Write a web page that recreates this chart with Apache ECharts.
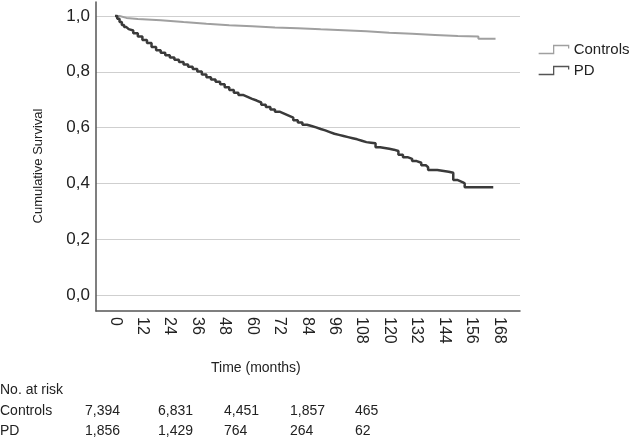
<!DOCTYPE html>
<html>
<head>
<meta charset="utf-8">
<script src="https://cdn.jsdelivr.net/npm/echarts@6/dist/echarts.min.js"></script>
<style>
html,body{margin:0;padding:0;background:#fff;}
#chart{width:632px;height:439px;}
</style>
</head>
<body>
<div id="chart"></div>
<script>
// ---- data ----
var controlsTime = [0, 2, 5, 10, 20, 30, 40, 50, 60, 70, 80, 90, 100, 110, 120, 130, 140, 150, 159, 166.5];
var controlsSurv = [1.0, 0.993, 0.989, 0.985, 0.978, 0.972, 0.967, 0.963, 0.959, 0.956, 0.952, 0.949, 0.945, 0.940, 0.936, 0.932, 0.928, 0.926, 0.918, 0.918];

var pdTime = [0, 1, 2, 3, 4, 5, 6, 8, 10, 12, 14, 16, 18, 20, 22, 24, 26, 28, 30, 32, 34, 36, 38, 40, 42, 44, 46, 48, 50,
  52, 54, 56, 58, 60, 62, 64, 66, 68, 70, 72, 74, 76, 78, 80, 82, 84, 86, 88, 90, 92, 94, 96, 98, 100, 102, 104, 106,
  108, 110, 112, 114, 116, 118, 120, 122, 124, 126, 128, 130, 132, 134, 136, 137, 141, 146, 148, 150, 152, 153, 165.5];
var pdSurv = [1.000, 0.990, 0.978, 0.968, 0.960, 0.953, 0.948, 0.938, 0.926, 0.914, 0.903, 0.889, 0.877, 0.868, 0.859,
  0.851, 0.843, 0.835, 0.826, 0.818, 0.810, 0.801, 0.790, 0.780, 0.772, 0.764, 0.755, 0.745, 0.735, 0.725, 0.717,
  0.710, 0.703, 0.697, 0.690, 0.682, 0.674, 0.665, 0.657, 0.650, 0.643, 0.636, 0.626, 0.618, 0.610, 0.606, 0.601,
  0.595, 0.590, 0.584, 0.578, 0.574, 0.570, 0.566, 0.562, 0.558, 0.553, 0.548, 0.546, 0.544, 0.530, 0.527, 0.524,
  0.521, 0.516, 0.503, 0.494, 0.488, 0.480, 0.474, 0.465, 0.458, 0.448, 0.442, 0.438, 0.412, 0.405, 0.400, 0.386, 0.386];

var xTicks = [0, 12, 24, 36, 48, 60, 72, 84, 96, 108, 120, 132, 144, 156, 168];
var yTicks = [0, 0.2, 0.4, 0.6, 0.8, 1.0];

var seriesNames = ['Controls', 'PD'];
var riskHeader = 'No. at risk';
var riskControls = ['7,394', '6,831', '4,451', '1,857', '465'];
var riskPD = ['1,856', '1,429', '764', '264', '62'];

// ---- build ----
function pairs(t, s) { return t.map(function (v, i) { return [v, s[i]]; }); }

var colCtrl = '#a0a0a0';
var colPD = '#3a3a3a';
var txt = '#222';
var font = 'Liberation Sans, Arial, sans-serif';

var riskCols = [85, 158, 224, 290, 355];
var graphics = [
  { type: 'text', left: 211, top: 361, style: { text: 'Time (months)', fontSize: 14, fontFamily: font, fill: txt } },
  { type: 'text', x: 38, y: 166, rotation: Math.PI / 2,
    style: { text: 'Cumulative Survival', fontSize: 13, fontFamily: font, fill: txt, align: 'center', verticalAlign: 'middle' } },
  { type: 'text', x: 0, y: 390, style: { text: riskHeader, fontSize: 14, fontFamily: font, fill: txt, verticalAlign: 'middle' } },
  { type: 'text', x: 0, y: 411, style: { text: seriesNames[0], fontSize: 14, fontFamily: font, fill: txt, verticalAlign: 'middle' } },
  { type: 'text', x: 0, y: 431, style: { text: seriesNames[1], fontSize: 14, fontFamily: font, fill: txt, verticalAlign: 'middle' } }
];
riskControls.forEach(function (v, i) {
  graphics.push({ type: 'text', x: riskCols[i], y: 411, style: { text: v, fontSize: 14, fontFamily: font, fill: txt, verticalAlign: 'middle' } });
});
riskPD.forEach(function (v, i) {
  graphics.push({ type: 'text', x: riskCols[i], y: 431, style: { text: v, fontSize: 14, fontFamily: font, fill: txt, verticalAlign: 'middle' } });
});

var legendIcon = 'path://M0,8 L15,8 L15,0 L30,0 L30,3';

var chart = echarts.init(document.getElementById('chart'), null, { renderer: 'canvas' });
chart.setOption({
  animation: false,
  backgroundColor: '#fff',
  textStyle: { fontFamily: font },
  grid: { left: 96, right: 112, top: 2, bottom: 128, containLabel: false },
  legend: {
    orient: 'vertical', left: 538, top: 42, padding: 0, itemWidth: 30, itemHeight: 8, itemGap: 6,
    icon: legendIcon,
    textStyle: { fontSize: 15, color: txt, fontFamily: font },
    data: [
      { name: seriesNames[0], itemStyle: { color: 'transparent', borderColor: colCtrl, borderWidth: 1.3 } },
      { name: seriesNames[1], itemStyle: { color: 'transparent', borderColor: '#555', borderWidth: 1.3 } }
    ]
  },
  xAxis: {
    type: 'value', min: -8.3, max: 177.2,
    axisLine: { show: true, onZero: false, lineStyle: { color: '#555', width: 1.5 } },
    axisTick: { show: false, customValues: xTicks },
    axisLabel: { customValues: xTicks, rotate: -90, fontSize: 16, color: txt, margin: 6, fontFamily: font },
    splitLine: { show: false }
  },
  yAxis: {
    type: 'value', min: -0.057, max: 1.05,
    axisLine: { show: true, onZero: false, lineStyle: { color: '#555', width: 1.5 } },
    axisTick: { show: false, customValues: yTicks },
    axisLabel: { customValues: yTicks, fontSize: 17, color: txt, margin: 6, fontFamily: font,
      formatter: function (v) { return v.toFixed(1).replace('.', ','); } },
    splitLine: { show: true, lineStyle: { color: '#cfcfcf', width: 1.2 } }
  },
  series: [
    { name: seriesNames[0], type: 'line', step: 'end', showSymbol: false, data: pairs(controlsTime, controlsSurv),
      lineStyle: { color: colCtrl, width: 2 }, itemStyle: { color: colCtrl }, z: 3 },
    { name: seriesNames[1], type: 'line', step: 'end', showSymbol: false, data: pairs(pdTime, pdSurv),
      lineStyle: { color: colPD, width: 2.5 }, itemStyle: { color: colPD }, z: 4 }
  ],
  graphic: graphics
});
</script>
</body>
</html>
